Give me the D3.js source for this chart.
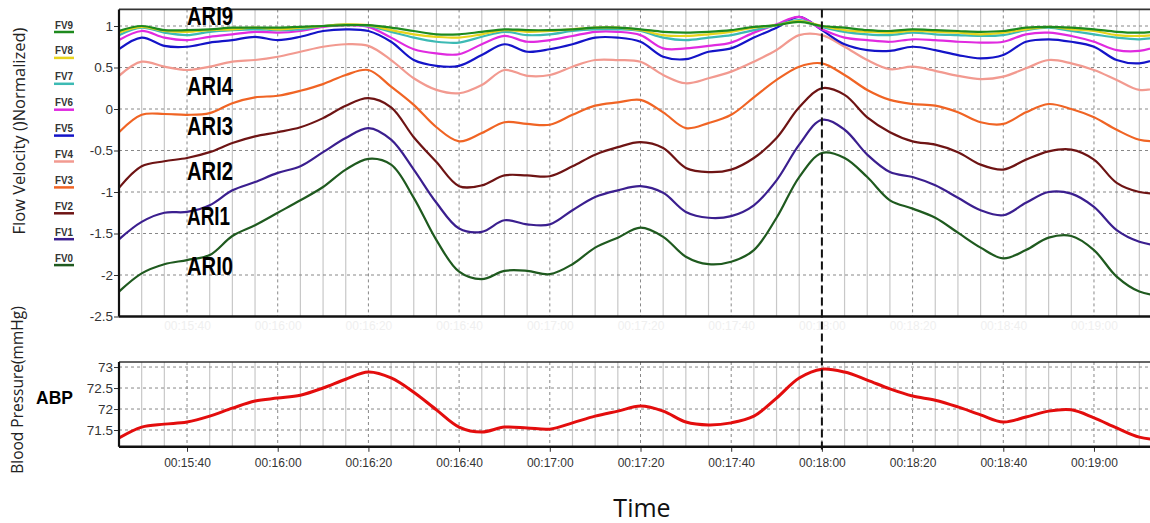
<!DOCTYPE html>
<html><head><meta charset="utf-8">
<script src="https://cdn.jsdelivr.net/npm/d3@7"></script>
<style>body{margin:0;background:#fff;} svg{display:block;}</style>
</head><body>
<svg id="c" width="1150" height="523"></svg>
<script>
// ---- DATA ----
const sampleTimes = [925,930,935,940,945,950,955,960,965,970,975,980,985,990,995,1000,1005,1010,1015,1020,1025,1030,1035,1040,1045,1050,1055,1060,1065,1070,1075,1080,1085,1090,1095,1100,1105,1110,1115,1120,1125,1130,1135,1140,1145,1150,1155];
const tickTimes = [940,960,980,1000,1020,1040,1060,1080,1100,1120,1140];
const tickLabels = ["00:15:40","00:16:00","00:16:20","00:16:40","00:17:00","00:17:20","00:17:40","00:18:00","00:18:20","00:18:40","00:19:00"];
const markerTime = 1080;
const fvYTicks = [1,0.5,0,-0.5,-1,-1.5,-2,-2.5];
const fvYTickLabels = ["1","0.5","0","-0.5","-1","-1.5","-2","-2.5"];
const abpYTicks = [73,72.5,72,71.5];
const abpYTickLabels = ["73","72.5","72","71.5"];
const fvNames = ["FV0","FV1","FV2","FV3","FV4","FV5","FV6","FV7","FV8","FV9"];
const ariNames = ["ARI0","ARI1","ARI2","ARI3","ARI4","ARI9"];

const FV0 = [-2.20,-1.98,-1.87,-1.82,-1.76,-1.53,-1.40,-1.25,-1.10,-0.94,-0.73,-0.60,-0.67,-1.07,-1.58,-1.96,-2.05,-1.95,-1.95,-1.99,-1.87,-1.67,-1.55,-1.43,-1.54,-1.78,-1.87,-1.84,-1.70,-1.31,-0.82,-0.53,-0.59,-0.82,-1.10,-1.20,-1.31,-1.49,-1.67,-1.80,-1.70,-1.55,-1.53,-1.70,-2.02,-2.20,-2.25];
const FV1 = [-1.57,-1.36,-1.25,-1.24,-1.16,-0.98,-0.88,-0.77,-0.69,-0.52,-0.35,-0.23,-0.37,-0.73,-1.13,-1.44,-1.48,-1.34,-1.39,-1.39,-1.22,-1.06,-0.98,-0.93,-1.01,-1.24,-1.31,-1.29,-1.16,-0.86,-0.43,-0.13,-0.25,-0.55,-0.76,-0.82,-0.92,-1.07,-1.22,-1.28,-1.13,-1.00,-1.02,-1.18,-1.46,-1.60,-1.65];
const FV2 = [-0.95,-0.69,-0.63,-0.59,-0.52,-0.41,-0.33,-0.28,-0.22,-0.11,0.04,0.13,0.02,-0.34,-0.64,-0.93,-0.92,-0.80,-0.80,-0.81,-0.69,-0.55,-0.46,-0.40,-0.47,-0.71,-0.76,-0.73,-0.59,-0.35,0.02,0.25,0.17,-0.10,-0.28,-0.39,-0.43,-0.52,-0.67,-0.73,-0.61,-0.51,-0.49,-0.61,-0.89,-1.00,-1.02];
const FV3 = [-0.28,-0.07,-0.06,-0.07,-0.05,0.07,0.14,0.16,0.22,0.30,0.41,0.47,0.27,0.05,-0.22,-0.39,-0.29,-0.16,-0.18,-0.19,-0.07,0.04,0.08,0.11,-0.04,-0.23,-0.17,-0.07,0.14,0.35,0.51,0.55,0.41,0.23,0.11,0.06,0.04,-0.04,-0.16,-0.18,-0.04,0.06,0.00,-0.10,-0.25,-0.37,-0.39];
const FV4 = [0.40,0.57,0.51,0.47,0.51,0.57,0.59,0.63,0.69,0.75,0.78,0.76,0.59,0.37,0.23,0.19,0.29,0.47,0.40,0.41,0.51,0.59,0.59,0.57,0.41,0.31,0.37,0.45,0.57,0.71,0.89,0.89,0.75,0.59,0.48,0.51,0.46,0.40,0.36,0.39,0.49,0.59,0.55,0.47,0.35,0.23,0.27];
const FV5 = [0.72,0.86,0.76,0.75,0.80,0.83,0.87,0.83,0.87,0.94,0.96,0.94,0.81,0.59,0.52,0.52,0.65,0.78,0.69,0.72,0.78,0.86,0.86,0.81,0.63,0.60,0.69,0.73,0.86,0.98,1.11,0.95,0.78,0.71,0.70,0.75,0.71,0.65,0.61,0.65,0.81,0.84,0.81,0.75,0.59,0.55,0.63];
const FV6 = [0.83,0.94,0.86,0.83,0.87,0.90,0.93,0.92,0.94,0.99,1.01,0.99,0.86,0.72,0.67,0.66,0.78,0.88,0.81,0.83,0.88,0.93,0.93,0.89,0.73,0.73,0.76,0.80,0.92,1.02,1.11,0.96,0.86,0.83,0.81,0.84,0.83,0.81,0.80,0.81,0.90,0.92,0.88,0.81,0.71,0.70,0.77];
const FV7 = [0.89,0.98,0.92,0.89,0.93,0.95,0.96,0.95,0.96,1.00,1.02,1.00,0.93,0.86,0.81,0.80,0.87,0.93,0.89,0.90,0.94,0.96,0.96,0.94,0.86,0.83,0.86,0.89,0.95,1.01,1.07,0.99,0.93,0.90,0.89,0.92,0.90,0.89,0.88,0.89,0.95,0.98,0.94,0.90,0.86,0.84,0.87];
const FV8 = [0.92,0.99,0.94,0.93,0.95,0.96,0.98,0.96,0.98,1.00,1.02,1.01,0.95,0.90,0.87,0.86,0.90,0.95,0.93,0.94,0.96,0.98,0.98,0.95,0.89,0.88,0.90,0.93,0.98,1.01,1.06,1.00,0.95,0.93,0.92,0.94,0.93,0.92,0.90,0.92,0.96,0.99,0.96,0.94,0.89,0.88,0.90];
const FV9 = [0.94,1.00,0.95,0.95,0.96,0.98,0.98,0.98,0.99,1.00,1.01,1.01,0.98,0.94,0.90,0.90,0.93,0.96,0.95,0.95,0.96,0.98,0.98,0.96,0.93,0.92,0.93,0.95,0.99,1.01,1.05,1.00,0.98,0.95,0.94,0.96,0.95,0.94,0.93,0.94,0.98,0.99,0.98,0.96,0.93,0.92,0.94];
const ABP = [71.31,71.57,71.64,71.69,71.83,72.02,72.19,72.26,72.33,72.50,72.71,72.88,72.74,72.40,71.98,71.57,71.45,71.57,71.55,71.52,71.67,71.83,71.95,72.07,71.95,71.69,71.62,71.67,71.83,72.26,72.74,72.95,72.88,72.69,72.48,72.31,72.21,72.05,71.86,71.69,71.81,71.95,71.98,71.79,71.55,71.33,71.26];

const fvSeries = [FV0,FV1,FV2,FV3,FV4,FV5,FV6,FV7,FV8,FV9];

// ---- STYLE / LAYOUT ----
const fvColors = ["#1f5a1f","#3b1f8f","#6e1414","#f06424","#f29a90","#1414c8","#e02ae0","#3cbab4","#e8d41c","#1e8a1e"];
const abpColor = "#e30d0d";
const ariPos = [[940,-2.0],[940,-1.40],[940,-0.86],[940,-0.31],[940,0.17],[940,1.01]];

const svg = d3.select("#c");
const x = d3.scaleLinear().domain([925,1155]).range([119,1162]);
const yF = d3.scaleLinear().domain([-2.5,1.2]).range([316.5,9.4]);
const yA = d3.scaleLinear().domain([71.1,73.12]).range([446.8,362]);

const minorTimes = d3.range(930,1160,5).filter(t => t % 20 !== 0);

function panel(y, yTicks, yLabels, showLabels, labelColor) {
  const g = svg.append("g");
  const y0 = y.range()[1], y1 = y.range()[0];
  g.selectAll(".mn").data(minorTimes).join("line")
    .attr("x1",d=>x(d)).attr("x2",d=>x(d)).attr("y1",y0).attr("y2",y1)
    .attr("stroke","#c8c8c8").attr("stroke-width",1.2);
  g.selectAll(".mj").data(tickTimes).join("line")
    .attr("x1",d=>x(d)).attr("x2",d=>x(d)).attr("y1",y0).attr("y2",y1)
    .attr("stroke","#888").attr("stroke-width",1).attr("stroke-dasharray","3,3");
  g.selectAll(".hg").data(yTicks.filter(v=>y(v)>y0+2 && y(v)<y1-2)).join("line")
    .attr("x1",119).attr("x2",1162).attr("y1",d=>y(d)).attr("y2",d=>y(d))
    .attr("stroke","#888").attr("stroke-width",1).attr("stroke-dasharray","3,3");
  const ax = d3.axisLeft(y).tickValues(yTicks).tickFormat((d,i)=>yLabels[i]).tickSize(5).tickSizeOuter(0);
  const ag = svg.append("g").attr("transform","translate(119,0)").call(ax);
  ag.select(".domain").remove();
  ag.selectAll("text").attr("font-family","Liberation Sans, Arial, sans-serif").attr("font-size",13.5).attr("fill","#333").attr("x",-6);
  ag.selectAll("line").attr("stroke","#333");
  const xa = d3.axisBottom(x).tickValues(tickTimes).tickFormat((d,i)=>tickLabels[i]).tickSize(showLabels?5:0).tickSizeOuter(0);
  const xg = svg.append("g").attr("transform",`translate(0,${y1})`).call(xa);
  xg.select(".domain").remove();
  xg.selectAll("text").attr("font-family","Liberation Sans, Arial, sans-serif").attr("font-size",12)
    .attr("fill",labelColor).attr("dy", showLabels? "1.05em":"0.9em");
  xg.selectAll("line").attr("stroke","#333");
  return {g:g, y0:y0, y1:y1};
}

const topP = panel(yF, fvYTicks, fvYTickLabels, false, "#efefef");
const botP = panel(yA, abpYTicks, abpYTickLabels, true, "#333");

svg.append("clipPath").attr("id","cp1").append("rect").attr("x",119).attr("y",topP.y0).attr("width",1100).attr("height",topP.y1-topP.y0);
svg.append("clipPath").attr("id","cp2").append("rect").attr("x",119).attr("y",botP.y0).attr("width",1100).attr("height",botP.y1-botP.y0);

const lineF = d3.line().x((d,i)=>x(sampleTimes[i])).y(d=>yF(d)).curve(d3.curveCatmullRom.alpha(0.5));
const lineA = d3.line().x((d,i)=>x(sampleTimes[i])).y(d=>yA(d)).curve(d3.curveCatmullRom.alpha(0.5));

const sg = svg.append("g").attr("clip-path","url(#cp1)");
fvSeries.forEach((s,k)=>{
  sg.append("path").attr("d",lineF(s)).attr("fill","none").attr("stroke",fvColors[k]).attr("stroke-width",2.2).attr("stroke-linejoin","round");
});
svg.append("g").attr("clip-path","url(#cp2)").append("path").attr("d",lineA(ABP))
  .attr("fill","none").attr("stroke",abpColor).attr("stroke-width",3).attr("stroke-linejoin","round");

function frame(p){
  svg.append("line").attr("x1",119).attr("x2",1162).attr("y1",p.y0).attr("y2",p.y0).attr("stroke","#333").attr("stroke-width",1.6);
  svg.append("line").attr("x1",119).attr("x2",1162).attr("y1",p.y1).attr("y2",p.y1).attr("stroke","#111").attr("stroke-width",2.4);
  svg.append("line").attr("x1",119).attr("x2",119).attr("y1",p.y0).attr("y2",p.y1).attr("stroke","#111").attr("stroke-width",2.2);
}
frame(topP); frame(botP);

svg.append("line").attr("x1",x(markerTime)).attr("x2",x(markerTime)).attr("y1",topP.y0).attr("y2",botP.y1+3)
  .attr("stroke","#111").attr("stroke-width",2).attr("stroke-dasharray","8,4");

ariNames.forEach((n,i)=>{
  svg.append("text").attr("x",x(ariPos[i][0])).attr("y",yF(ariPos[i][1])).text(n)
    .attr("font-family","Liberation Sans Narrow, Arial Narrow, sans-serif").attr("font-weight","bold")
    .attr("font-size",25).attr("fill","#000")
    .attr("textLength", n === "ARI1" ? 43 : 46).attr("lengthAdjust","spacingAndGlyphs");
});

const leg = svg.append("g");
fvNames.slice().reverse().forEach((n,i)=>{
  const k = 9 - i;
  const ly = 32 + i*25.9;
  leg.append("text").attr("x",55).attr("y",ly-3.5).text(n)
    .attr("font-family","Liberation Sans Narrow, Arial Narrow, sans-serif").attr("font-weight","bold")
    .attr("font-size",11).attr("fill","#333").attr("textLength",18).attr("lengthAdjust","spacingAndGlyphs");
  leg.append("line").attr("x1",54).attr("x2",74).attr("y1",ly).attr("y2",ly)
    .attr("stroke",fvColors[k]).attr("stroke-width",2.5);
});

svg.append("text").attr("transform","translate(25,131) rotate(-90)").attr("text-anchor","middle")
  .attr("font-family","Open Sans, sans-serif").attr("font-size",16.5).attr("fill","#222").text("Flow Velocity ()Normalized)");
svg.append("text").attr("transform","translate(23,390) rotate(-90)").attr("text-anchor","middle")
  .attr("font-family","Open Sans, sans-serif").attr("font-size",15.5).attr("fill","#222").text("Blood Pressure(mmHg)");
svg.append("text").attr("x",36).attr("y",404).text("ABP")
  .attr("font-family","Liberation Sans, Arial, sans-serif").attr("font-weight","bold").attr("font-size",17.5).attr("fill","#000");
svg.append("text").attr("x",642).attr("y",517).attr("text-anchor","middle").text("Time")
  .attr("font-family","Open Sans, sans-serif").attr("font-size",25).attr("fill","#111");
</script>
</body></html>
